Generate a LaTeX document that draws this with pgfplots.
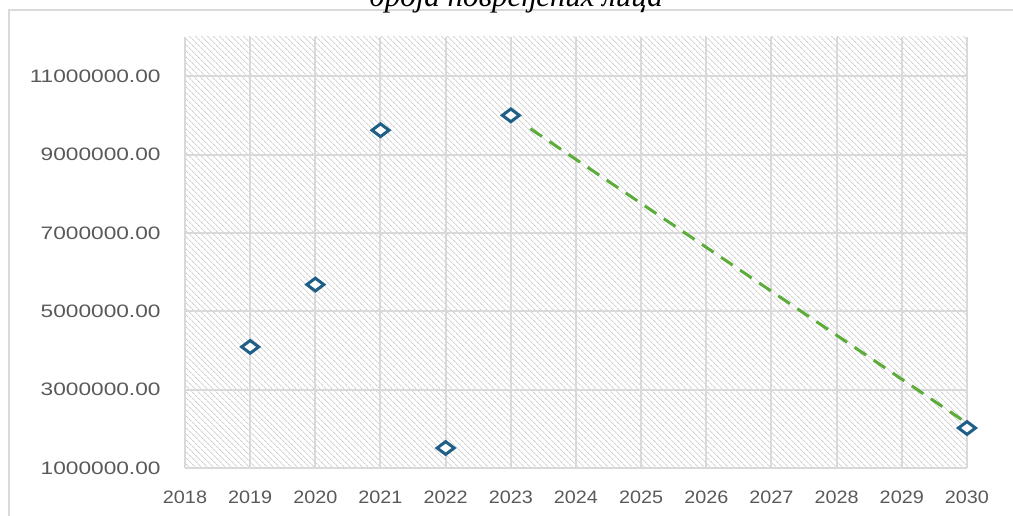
\documentclass[border=0pt]{standalone}
\usepackage{fontspec}
\setmainfont{Liberation Sans}
\newfontfamily\titlefont{Liberation Serif}
\usepackage{pgfplots}
\pgfplotsset{compat=1.18}
\usetikzlibrary{patterns.meta}
\definecolor{lbl}{RGB}{89,89,89}
\definecolor{gridc}{RGB}{217,217,217}
\definecolor{hatch}{RGB}{210,210,210}
\definecolor{mk}{RGB}{31,95,135}
\definecolor{trend}{RGB}{92,172,58}
\begin{document}
\begin{tikzpicture}
\useasboundingbox (0,0) rectangle (1013pt,516pt);
\draw[gridc, line width=2pt] (8.5pt,0pt) -- (8.5pt,505.5pt) -- (1013pt,505.5pt);
\node[anchor=base, font=\titlefont\itshape\fontsize{31}{36}\selectfont, text=black, inner sep=0pt] at (516pt,509pt) {броја повређених лица};
\begin{axis}[
  at={(185pt,48pt)}, anchor=south west,
  scale only axis, width=782pt, height=431pt,
  xmin=2018, xmax=2030, ymin=1000000, ymax=12000000,
  xtick={2018,2019,...,2030},
  ytick={1000000,3000000,5000000,7000000,9000000,11000000},
  xticklabel style={/pgf/number format/1000 sep={}, yshift=-19pt, xscale=1.1},
  yticklabel style={/pgf/number format/fixed, /pgf/number format/fixed zerofill, /pgf/number format/precision=2, /pgf/number format/1000 sep={}, xshift=-20pt, xscale=1.26},
  /pgf/number format/assume math mode=true,
  ticklabel style={font=\fontsize{18}{22}\selectfont, text=lbl},
  scaled y ticks=false,
  major tick length=0pt,
  axis line style={draw=none},
  grid=major,
  major grid style={gridc, line width=2pt},
  axis background/.style={pattern={Lines[angle=-45,distance=4pt,line width=1pt]}, pattern color=hatch},
  clip=false,
]
\addplot[draw=trend, line width=3pt, dash pattern=on 14pt off 9pt] coordinates {(2023.3,9660000) (2029.95,2200000)};
\addplot[only marks, mark=diamond*, mark size=8.5pt, mark options={rotate=90, draw=mk, fill=white, line width=3pt}] coordinates {
(2019,4090000) (2020,5680000) (2021,9620000) (2022,1510000) (2023,10000000) (2030,2020000)};
\end{axis}
\end{tikzpicture}
\end{document}
